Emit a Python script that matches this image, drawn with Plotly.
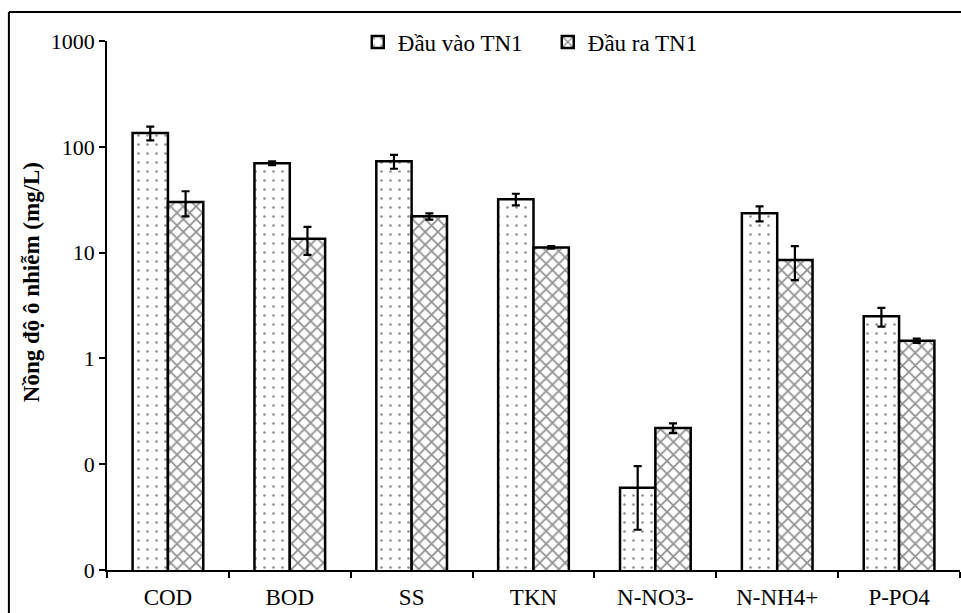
import plotly.graph_objects as go

categories = ["COD", "BOD", "SS", "TKN", "N-NO3-", "N-NH4+", "P-PO4"]
influent = [135, 70, 73, 32, 0.06, 23.5, 2.5]
influent_err = [20, 3, 11, 4, 0.036, 3.8, 0.5]
effluent = [30, 13.5, 22, 11.2, 0.22, 8.5, 1.47]
effluent_err = [8, 4, 1.5, 0.3, 0.023, 3, 0.07]
tick_vals = [0.01, 0.1, 1, 10, 100, 1000]
tick_text = ["0", "0", "1", "10", "100", "1000"]
y_title = "Nồng độ ô nhiễm (mg/L)"

FONT = "Liberation Serif"

fig = go.Figure()
fig.add_trace(go.Bar(
    name="Đầu vào TN1", x=categories, y=influent,
    marker=dict(color="white", line=dict(color="black", width=2.5),
                pattern=dict(shape=".", fgcolor="#222", bgcolor="white", size=9, solidity=0.07)),
    error_y=dict(type="data", array=influent_err, color="black", thickness=2.2, width=4),
))
fig.add_trace(go.Bar(
    name="Đầu ra TN1", x=categories, y=effluent,
    marker=dict(color="white", line=dict(color="black", width=2.5),
                pattern=dict(shape="x", fgcolor="#222", bgcolor="white", size=9, solidity=0.35)),
    error_y=dict(type="data", array=effluent_err, color="black", thickness=2.2, width=4),
))

fig.update_layout(
    width=961, height=613,
    margin=dict(l=107, r=1, t=41, b=43, autoexpand=False),
    paper_bgcolor="white", plot_bgcolor="white",
    barmode="group", bargap=0.42, bargroupgap=0,
    font=dict(family=FONT, size=22, color="black"),
    showlegend=True,
    legend=dict(orientation="h", x=0.294, xanchor="left", y=0.998, yanchor="middle",
                font=dict(family=FONT, size=23), bgcolor="rgba(0,0,0,0)",
                itemwidth=30, tracegroupgap=0, entrywidth=145, entrywidthmode="pixels"),
    xaxis=dict(showline=True, linecolor="black", linewidth=1.5, ticks="outside",
               tickson="boundaries", ticklen=6, tickcolor="black", tickwidth=1.5,
               showgrid=False, tickfont=dict(family=FONT, size=23), automargin=False,
               ticklabelstandoff=6),
    yaxis=dict(type="log", range=[-2, 3], showline=True, linecolor="black", linewidth=1.5,
               ticks="outside", ticklen=6, tickcolor="black", tickwidth=1.5,
               tickvals=tick_vals, ticktext=tick_text, showgrid=False, zeroline=False,
               tickfont=dict(family=FONT, size=22), automargin=False),
    annotations=[
        dict(text="<b>" + y_title + "</b>", xref="paper", yref="paper",
             x=-0.0891, y=0.544, xanchor="center", yanchor="middle", textangle=-90,
             showarrow=False, font=dict(family=FONT, size=23, color="black")),
    ],
    shapes=[
        dict(type="line", xref="paper", yref="paper", x0=-0.115, x1=1.01, y0=1.055, y1=1.055,
             line=dict(color="black", width=2)),
        dict(type="line", xref="paper", yref="paper", x0=-0.115, x1=-0.115, y0=1.055, y1=-0.2,
             line=dict(color="black", width=2)),
    ],
)

fig.write_html("out.html", config={"displayModeBar": False},
               post_script="document.body.style.margin='0px';")
